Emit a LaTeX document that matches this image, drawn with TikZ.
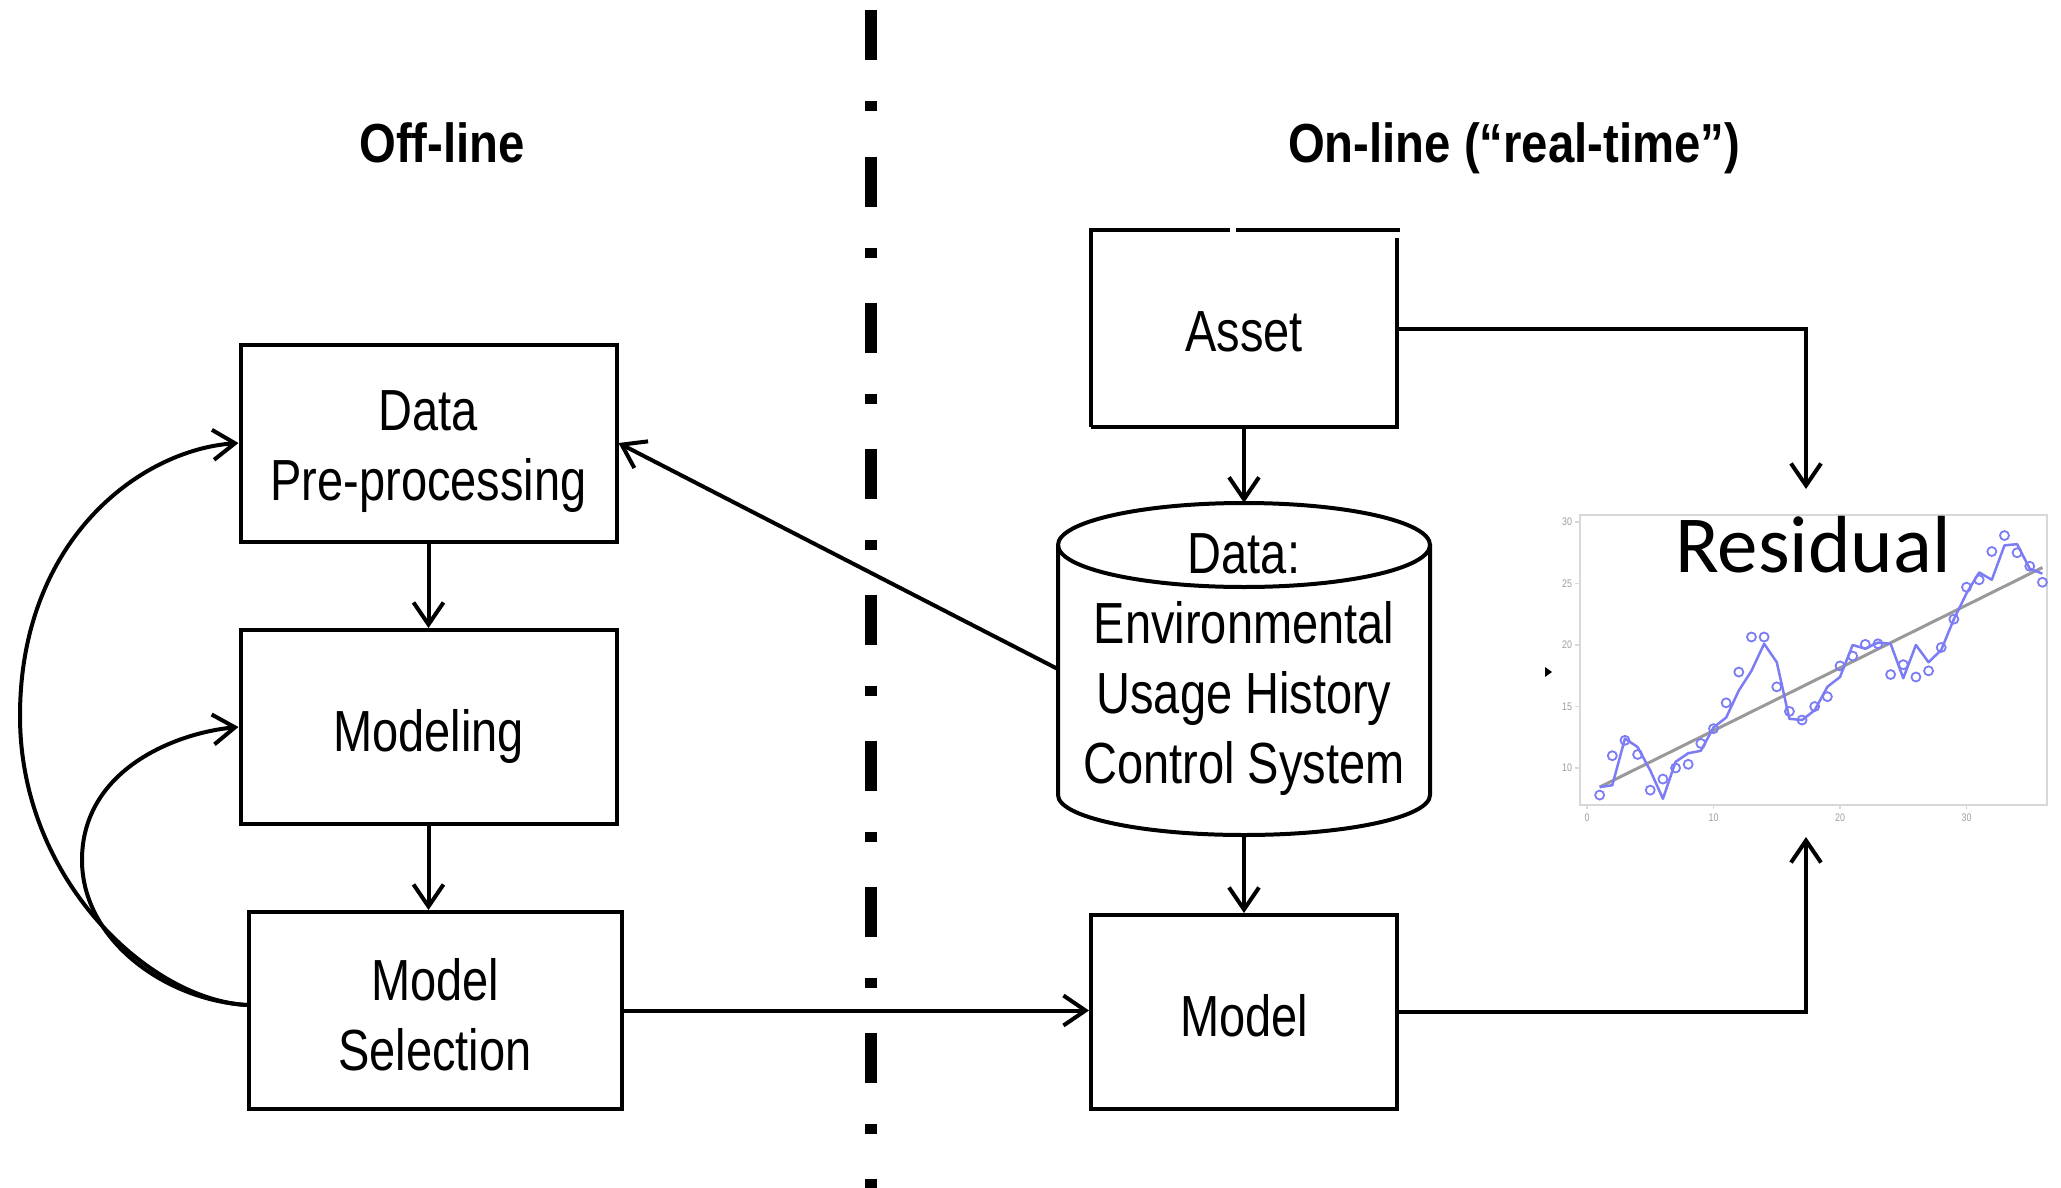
\documentclass[tikz,border=0pt]{standalone}
\usepackage{fontspec}
\setmainfont{Liberation Sans}[FakeStretch=0.81]
\newfontfamily\tfont{Liberation Sans}[FakeStretch=0.86]
\newfontfamily\rfont{Carlito}
\usetikzlibrary{arrows.meta}
\definecolor{ptblue}{HTML}{7C7CF4}
\definecolor{axgray}{HTML}{D8D8D8}
\begin{document}
\begin{tikzpicture}[x=1pt,y=-1pt,
  box/.style={draw, line width=4pt, inner sep=0pt},
  plainbox/.style={inner sep=0pt},
  boxtxt/.style={inner sep=0pt, align=center, font=\fontsize{58}{70}\selectfont},
  boxline/.style={line width=4pt},
  conn/.style={line width=4pt, -{Straight Barb[length=22pt,width=30pt]}},
  ttl/.style={font=\tfont\bfseries\fontsize{55}{66}\selectfont, anchor=base},
  ticklab/.style={font=\fontsize{11}{12}\selectfont, text=gray!75}]
\useasboundingbox (0,0) rectangle (2061,1188);
\fill[white] (0,0) rectangle (2061,1188);

% dash-dot divider
\draw[line width=12pt, dash pattern=on 50pt off 41pt on 10pt off 45pt] (871,10.5) -- (871,1188);

% titles
\node[ttl] (toff) at (442,162) {Off-line};
\node[ttl] (ton) at (1514,162) {On-line (“real-time”)};

% off-line boxes
\node[box, minimum width=376pt, minimum height=197pt] (dp) at (428.5,443) {};
\node[boxtxt, yshift=-9pt] (dpt) at (dp) {Data\\Pre-processing};
\node[box, minimum width=376pt, minimum height=194pt] (mod) at (428.5,727) {};
\node[boxtxt, yshift=-9pt] (modt) at (mod) {Modeling};
\node[box, minimum width=373pt, minimum height=197pt] (ms) at (435,1010.5) {};
\node[boxtxt, yshift=-4pt] (mst) at (ms) {Model\\Selection};

% on-line boxes
\node[plainbox, minimum width=306pt, minimum height=197pt] (asset) at (1244,328.5) {};
\node[boxtxt, yshift=-3pt] (assett) at (asset) {Asset};
\draw[boxline] (asset.south west) -- (asset.north west) -- ([xshift=-14pt]asset.north);
\draw[boxline] ([xshift=-8pt]asset.north) -- ([xshift=3pt]asset.north east);
\draw[boxline] ([yshift=-8pt]asset.north east) -- (asset.south east) -- (asset.south west);
\node[box, minimum width=306pt, minimum height=194pt] (model) at (1244,1012) {};
\node[boxtxt, yshift=-4pt] (modelt) at (model) {Model};

% cylinder
\node[plainbox, minimum width=372pt, minimum height=332pt] (cyl) at (1244,669) {};
\draw[boxline] (1058,545) -- (1058,795) arc[start angle=180,end angle=360,x radius=186pt,y radius=40pt] -- (1430,545);
\draw[boxline] (1244,545) ellipse[x radius=186pt, y radius=42pt];
\node[boxtxt] (cyltxt) at (1244,665) {Data:\\Environmental\\Usage History\\Control System};

% connectors
\draw[conn] (dp.south) -- (mod.north);
\draw[conn] (mod.south) -- (mod.south |- ms.north);
\draw[conn] (ms.east) -- (model.west |- ms.east);
\draw[conn] (cyl.west) -- (dp.east);
\draw[conn] (asset.south) -- (cyl.north);
\draw[conn] (cyl.south) -- (model.north);
\coordinate (rtop) at (1806,489);
\coordinate (rbot) at (1806,837);
\draw[conn] (asset.east) -| (rtop);
\draw[conn] (model.east) -| (rbot);
\coordinate (msw) at (247,1005);
\draw[conn] (msw) .. controls (150,1000) and (20,880) .. (20,716) .. controls (20,540) and (140,450) .. (dp.west);
\draw[conn] (msw) .. controls (165,1000) and (82,940) .. (82,860) .. controls (82,770) and (175,733) .. (mod.west);

% residual plot
\begin{scope}[shift={(1587,891)}, x=12.65pt, y=12.3pt]
  \draw[axgray, line width=2pt] (-0.55,7.0) rectangle (36.36,30.57);
  \foreach \v in {10,15,20,25,30} {
    \draw[axgray, line width=1.5pt] (-0.55,\v) -- (-0.95,\v);
    \node[ticklab, anchor=east] at (-0.9,\v) {\v};
  }
  \foreach \v in {0,10,20,30} {
    \draw[axgray, line width=1.5pt] (\v,7.0) -- (\v,6.7);
    \node[ticklab, anchor=north] at (\v,6.6) {\v};
  }
  \draw[gray!80, line width=3pt] (1,8.45) -- (36,26.3);
  \draw[ptblue, line width=2.5pt, line join=round] plot coordinates {
    (1,8.45) (2,8.6) (3,12.4) (4,11.7) (5,9.8) (6,7.5) (7,10.5) (8,11.2) (9,11.4)
    (10,13.3) (11,14.1) (12,16.3) (13,17.9) (14,20.1) (15,18.6) (16,14.0) (17,13.9)
    (18,14.7) (19,16.6) (20,17.4) (21,20.0) (22,19.7) (23,20.2) (24,20.1) (25,17.3)
    (26,20.0) (27,18.6) (28,19.6) (29,22.1) (30,24.2) (31,25.9) (32,25.3) (33,28.1)
    (34,28.2) (35,26.2) (36,25.8)};
  \foreach \px/\py in {1/7.8,2/11.0,3/12.25,4/11.1,5/8.2,6/9.1,7/10.0,8/10.3,9/12.0,
    10/13.2,11/15.3,12/17.8,13/20.65,14/20.65,15/16.6,16/14.6,17/13.9,18/15.0,19/15.8,
    20/18.3,21/19.1,22/20.05,23/20.1,24/17.6,25/18.4,26/17.4,27/17.9,28/19.8,29/22.1,
    30/24.7,31/25.3,32/27.6,33/28.9,34/27.5,35/26.4,36/25.1} {
    \draw[ptblue, line width=1.8pt] (\px,\py) circle[radius=4.5pt];
  }
\end{scope}
\node[font=\rfont\fontsize{81}{83}\selectfont, anchor=base, inner sep=0pt] (resid) at (1813,572) {Residual};
\fill (1545,667) -- (1552,672) -- (1545,677) -- cycle;
\end{tikzpicture}
\end{document}
